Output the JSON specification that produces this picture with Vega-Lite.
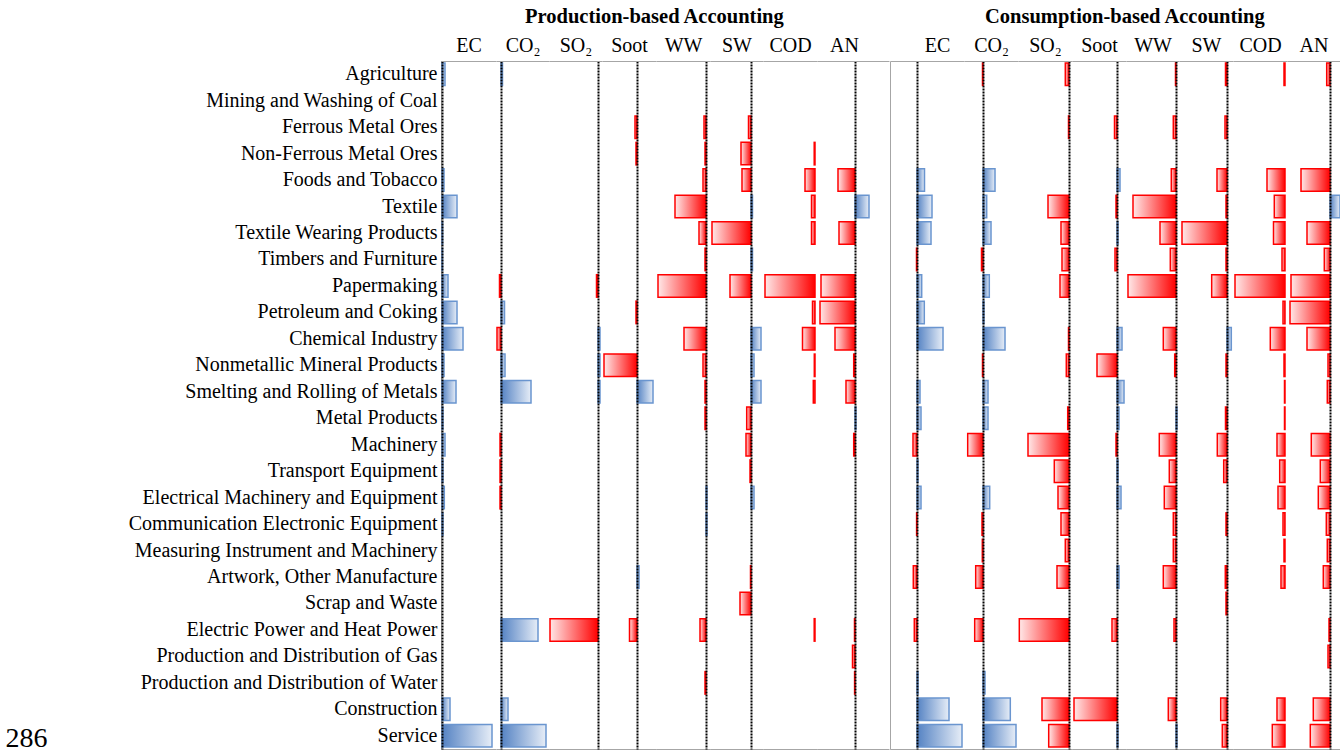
{
"$schema": "https://vega.github.io/schema/vega-lite/v6.json",
"background": "white",
"padding": {"left": 5, "top": 6, "right": 0, "bottom": 0},
"config": {"view": {"stroke": null}, "font": "Liberation Serif"},
"datasets": {
"prod": [
{"sector":"Agriculture","ind":"EC","value":3},{"sector":"Agriculture","ind":"CO2","value":1.5},
{"sector":"Ferrous Metal Ores","ind":"Soot","value":-2},{"sector":"Ferrous Metal Ores","ind":"WW","value":-2},{"sector":"Ferrous Metal Ores","ind":"SW","value":-2.5},
{"sector":"Non-Ferrous Metal Ores","ind":"Soot","value":-1},{"sector":"Non-Ferrous Metal Ores","ind":"WW","value":-1},{"sector":"Non-Ferrous Metal Ores","ind":"SW","value":-10},{"sector":"Non-Ferrous Metal Ores","ind":"COD","value":-0.8},
{"sector":"Foods and Tobacco","ind":"EC","value":2},{"sector":"Foods and Tobacco","ind":"WW","value":-3},{"sector":"Foods and Tobacco","ind":"SW","value":-9},{"sector":"Foods and Tobacco","ind":"COD","value":-10},{"sector":"Foods and Tobacco","ind":"AN","value":-17},
{"sector":"Textile","ind":"EC","value":15},{"sector":"Textile","ind":"WW","value":-31},{"sector":"Textile","ind":"SW","value":1.5},{"sector":"Textile","ind":"COD","value":-3.5},{"sector":"Textile","ind":"AN","value":14},
{"sector":"Textile Wearing Products","ind":"EC","value":0.6},{"sector":"Textile Wearing Products","ind":"WW","value":-7},{"sector":"Textile Wearing Products","ind":"SW","value":-39},{"sector":"Textile Wearing Products","ind":"COD","value":-3.5},{"sector":"Textile Wearing Products","ind":"AN","value":-16},
{"sector":"Timbers and Furniture","ind":"EC","value":0.5},{"sector":"Timbers and Furniture","ind":"WW","value":-1},{"sector":"Timbers and Furniture","ind":"SW","value":1.5},
{"sector":"Papermaking","ind":"EC","value":6},{"sector":"Papermaking","ind":"CO2","value":-1.5},{"sector":"Papermaking","ind":"SO2","value":-1.5},{"sector":"Papermaking","ind":"WW","value":-48},{"sector":"Papermaking","ind":"SW","value":-21},{"sector":"Papermaking","ind":"COD","value":-50},{"sector":"Papermaking","ind":"AN","value":-34},
{"sector":"Petroleum and Coking","ind":"EC","value":15},{"sector":"Petroleum and Coking","ind":"CO2","value":3.5},{"sector":"Petroleum and Coking","ind":"Soot","value":-1},{"sector":"Petroleum and Coking","ind":"COD","value":-2.5},{"sector":"Petroleum and Coking","ind":"AN","value":-35},
{"sector":"Chemical Industry","ind":"EC","value":21},{"sector":"Chemical Industry","ind":"CO2","value":-4},{"sector":"Chemical Industry","ind":"SO2","value":2},{"sector":"Chemical Industry","ind":"WW","value":-22},{"sector":"Chemical Industry","ind":"SW","value":10},{"sector":"Chemical Industry","ind":"COD","value":-12.5},{"sector":"Chemical Industry","ind":"AN","value":-20},
{"sector":"Nonmetallic Mineral Products","ind":"EC","value":2},{"sector":"Nonmetallic Mineral Products","ind":"CO2","value":4},{"sector":"Nonmetallic Mineral Products","ind":"SO2","value":2},{"sector":"Nonmetallic Mineral Products","ind":"Soot","value":-33},{"sector":"Nonmetallic Mineral Products","ind":"WW","value":-3},{"sector":"Nonmetallic Mineral Products","ind":"SW","value":3},{"sector":"Nonmetallic Mineral Products","ind":"COD","value":-0.7},{"sector":"Nonmetallic Mineral Products","ind":"AN","value":-1.3},
{"sector":"Smelting and Rolling of Metals","ind":"EC","value":14},{"sector":"Smelting and Rolling of Metals","ind":"CO2","value":30},{"sector":"Smelting and Rolling of Metals","ind":"SO2","value":2},{"sector":"Smelting and Rolling of Metals","ind":"Soot","value":16},{"sector":"Smelting and Rolling of Metals","ind":"WW","value":-1},{"sector":"Smelting and Rolling of Metals","ind":"SW","value":10},{"sector":"Smelting and Rolling of Metals","ind":"COD","value":-1.7},{"sector":"Smelting and Rolling of Metals","ind":"AN","value":-9},
{"sector":"Metal Products","ind":"EC","value":1},{"sector":"Metal Products","ind":"WW","value":-1},{"sector":"Metal Products","ind":"SW","value":-4.3},{"sector":"Metal Products","ind":"AN","value":1},
{"sector":"Machinery","ind":"EC","value":3},{"sector":"Machinery","ind":"CO2","value":-1},{"sector":"Machinery","ind":"SW","value":-5},{"sector":"Machinery","ind":"AN","value":-1.3},
{"sector":"Transport Equipment","ind":"EC","value":1},{"sector":"Transport Equipment","ind":"CO2","value":-1},{"sector":"Transport Equipment","ind":"SW","value":-1},
{"sector":"Electrical Machinery and Equipment","ind":"EC","value":2.3},{"sector":"Electrical Machinery and Equipment","ind":"CO2","value":-1},{"sector":"Electrical Machinery and Equipment","ind":"WW","value":1},{"sector":"Electrical Machinery and Equipment","ind":"SW","value":3},
{"sector":"Communication Electronic Equipment","ind":"EC","value":1},{"sector":"Communication Electronic Equipment","ind":"WW","value":1},
{"sector":"Artwork, Other Manufacture","ind":"Soot","value":2},{"sector":"Artwork, Other Manufacture","ind":"SW","value":-0.5},
{"sector":"Scrap and Waste","ind":"SW","value":-11},
{"sector":"Electric Power and Heat Power","ind":"CO2","value":37},{"sector":"Electric Power and Heat Power","ind":"SO2","value":-48},{"sector":"Electric Power and Heat Power","ind":"Soot","value":-7.5},{"sector":"Electric Power and Heat Power","ind":"WW","value":-6},{"sector":"Electric Power and Heat Power","ind":"COD","value":-0.8},{"sector":"Electric Power and Heat Power","ind":"AN","value":-0.5},
{"sector":"Production and Distribution of Gas","ind":"AN","value":-2.5},
{"sector":"Production and Distribution of Water","ind":"WW","value":-1},{"sector":"Production and Distribution of Water","ind":"AN","value":-0.4},
{"sector":"Construction","ind":"EC","value":8},{"sector":"Construction","ind":"CO2","value":7},
{"sector":"Service","ind":"EC","value":50},{"sector":"Service","ind":"CO2","value":45}
],
"cons": [
{"sector":"Agriculture","ind":"CO2","value":-0.5},{"sector":"Agriculture","ind":"SO2","value":-3.7},{"sector":"Agriculture","ind":"WW","value":-0.5},{"sector":"Agriculture","ind":"SW","value":-1.5},{"sector":"Agriculture","ind":"COD","value":-1},{"sector":"Agriculture","ind":"AN","value":-3.3},
{"sector":"Ferrous Metal Ores","ind":"SO2","value":-0.5},{"sector":"Ferrous Metal Ores","ind":"Soot","value":-2.5},{"sector":"Ferrous Metal Ores","ind":"WW","value":-2.7},{"sector":"Ferrous Metal Ores","ind":"SW","value":-2},
{"sector":"Foods and Tobacco","ind":"EC","value":7.5},{"sector":"Foods and Tobacco","ind":"CO2","value":12},{"sector":"Foods and Tobacco","ind":"Soot","value":3},{"sector":"Foods and Tobacco","ind":"WW","value":-4.7},{"sector":"Foods and Tobacco","ind":"SW","value":-10},{"sector":"Foods and Tobacco","ind":"COD","value":-18},{"sector":"Foods and Tobacco","ind":"AN","value":-29},
{"sector":"Textile","ind":"EC","value":15},{"sector":"Textile","ind":"CO2","value":3.7},{"sector":"Textile","ind":"SO2","value":-21},{"sector":"Textile","ind":"Soot","value":-1},{"sector":"Textile","ind":"WW","value":-43},{"sector":"Textile","ind":"SW","value":-1},{"sector":"Textile","ind":"COD","value":-10.7},{"sector":"Textile","ind":"AN","value":10},
{"sector":"Textile Wearing Products","ind":"EC","value":14},{"sector":"Textile Wearing Products","ind":"CO2","value":8},{"sector":"Textile Wearing Products","ind":"SO2","value":-8},{"sector":"Textile Wearing Products","ind":"Soot","value":1},{"sector":"Textile Wearing Products","ind":"WW","value":-16},{"sector":"Textile Wearing Products","ind":"SW","value":-45},{"sector":"Textile Wearing Products","ind":"COD","value":-11.5},{"sector":"Textile Wearing Products","ind":"AN","value":-23},
{"sector":"Timbers and Furniture","ind":"EC","value":-0.5},{"sector":"Timbers and Furniture","ind":"CO2","value":-1.5},{"sector":"Timbers and Furniture","ind":"SO2","value":-7},{"sector":"Timbers and Furniture","ind":"Soot","value":-2},{"sector":"Timbers and Furniture","ind":"WW","value":-5.7},{"sector":"Timbers and Furniture","ind":"SW","value":-1},{"sector":"Timbers and Furniture","ind":"COD","value":-3},{"sector":"Timbers and Furniture","ind":"AN","value":-5.7},
{"sector":"Papermaking","ind":"EC","value":4.7},{"sector":"Papermaking","ind":"CO2","value":6.3},{"sector":"Papermaking","ind":"SO2","value":-9},{"sector":"Papermaking","ind":"WW","value":-48},{"sector":"Papermaking","ind":"SW","value":-15.3},{"sector":"Papermaking","ind":"COD","value":-50},{"sector":"Papermaking","ind":"AN","value":-39},
{"sector":"Petroleum and Coking","ind":"EC","value":7.3},{"sector":"Petroleum and Coking","ind":"CO2","value":1},{"sector":"Petroleum and Coking","ind":"COD","value":-2},{"sector":"Petroleum and Coking","ind":"AN","value":-40},
{"sector":"Chemical Industry","ind":"EC","value":26},{"sector":"Chemical Industry","ind":"CO2","value":22},{"sector":"Chemical Industry","ind":"SO2","value":-0.5},{"sector":"Chemical Industry","ind":"Soot","value":5},{"sector":"Chemical Industry","ind":"WW","value":-12.7},{"sector":"Chemical Industry","ind":"SW","value":4.3},{"sector":"Chemical Industry","ind":"COD","value":-14.7},{"sector":"Chemical Industry","ind":"AN","value":-23},
{"sector":"Nonmetallic Mineral Products","ind":"CO2","value":-0.5},{"sector":"Nonmetallic Mineral Products","ind":"SO2","value":-2.7},{"sector":"Nonmetallic Mineral Products","ind":"Soot","value":-20},{"sector":"Nonmetallic Mineral Products","ind":"WW","value":-1.3},{"sector":"Nonmetallic Mineral Products","ind":"SW","value":-1},{"sector":"Nonmetallic Mineral Products","ind":"COD","value":-1},{"sector":"Nonmetallic Mineral Products","ind":"AN","value":-2},
{"sector":"Smelting and Rolling of Metals","ind":"EC","value":3},{"sector":"Smelting and Rolling of Metals","ind":"CO2","value":5},{"sector":"Smelting and Rolling of Metals","ind":"Soot","value":7},{"sector":"Smelting and Rolling of Metals","ind":"COD","value":-0.5},{"sector":"Smelting and Rolling of Metals","ind":"AN","value":-2.7},
{"sector":"Metal Products","ind":"EC","value":4},{"sector":"Metal Products","ind":"CO2","value":5},{"sector":"Metal Products","ind":"SO2","value":-1.3},{"sector":"Metal Products","ind":"Soot","value":2},{"sector":"Metal Products","ind":"WW","value":1},{"sector":"Metal Products","ind":"SW","value":-1.5},{"sector":"Metal Products","ind":"COD","value":-0.5},
{"sector":"Machinery","ind":"EC","value":-4},{"sector":"Machinery","ind":"CO2","value":-15.3},{"sector":"Machinery","ind":"SO2","value":-41},{"sector":"Machinery","ind":"Soot","value":-1},{"sector":"Machinery","ind":"WW","value":-16.7},{"sector":"Machinery","ind":"SW","value":-9.7},{"sector":"Machinery","ind":"COD","value":-8},{"sector":"Machinery","ind":"AN","value":-18.7},
{"sector":"Transport Equipment","ind":"EC","value":1},{"sector":"Transport Equipment","ind":"SO2","value":-14.7},{"sector":"Transport Equipment","ind":"Soot","value":1},{"sector":"Transport Equipment","ind":"WW","value":-6.7},{"sector":"Transport Equipment","ind":"SW","value":-3.3},{"sector":"Transport Equipment","ind":"COD","value":-5.3},{"sector":"Transport Equipment","ind":"AN","value":-9.7},
{"sector":"Electrical Machinery and Equipment","ind":"EC","value":4},{"sector":"Electrical Machinery and Equipment","ind":"CO2","value":6.7},{"sector":"Electrical Machinery and Equipment","ind":"SO2","value":-11},{"sector":"Electrical Machinery and Equipment","ind":"Soot","value":4},{"sector":"Electrical Machinery and Equipment","ind":"WW","value":-11.7},{"sector":"Electrical Machinery and Equipment","ind":"COD","value":-7},{"sector":"Electrical Machinery and Equipment","ind":"AN","value":-11.7},
{"sector":"Communication Electronic Equipment","ind":"EC","value":-0.4},{"sector":"Communication Electronic Equipment","ind":"CO2","value":-1},{"sector":"Communication Electronic Equipment","ind":"SO2","value":-8},{"sector":"Communication Electronic Equipment","ind":"WW","value":-2.7},{"sector":"Communication Electronic Equipment","ind":"SW","value":-1},{"sector":"Communication Electronic Equipment","ind":"COD","value":-2},{"sector":"Communication Electronic Equipment","ind":"AN","value":-3.7},
{"sector":"Measuring Instrument and Machinery","ind":"CO2","value":-0.7},{"sector":"Measuring Instrument and Machinery","ind":"SO2","value":-3.7},{"sector":"Measuring Instrument and Machinery","ind":"WW","value":-2.7},{"sector":"Measuring Instrument and Machinery","ind":"COD","value":-1},{"sector":"Measuring Instrument and Machinery","ind":"AN","value":-2.7},
{"sector":"Artwork, Other Manufacture","ind":"EC","value":-3.7},{"sector":"Artwork, Other Manufacture","ind":"CO2","value":-7.3},{"sector":"Artwork, Other Manufacture","ind":"SO2","value":-12},{"sector":"Artwork, Other Manufacture","ind":"Soot","value":2},{"sector":"Artwork, Other Manufacture","ind":"WW","value":-12.7},{"sector":"Artwork, Other Manufacture","ind":"SW","value":-1.7},{"sector":"Artwork, Other Manufacture","ind":"COD","value":-4},{"sector":"Artwork, Other Manufacture","ind":"AN","value":-6.7},
{"sector":"Scrap and Waste","ind":"SW","value":-1},
{"sector":"Electric Power and Heat Power","ind":"EC","value":-2.7},{"sector":"Electric Power and Heat Power","ind":"CO2","value":-8.3},{"sector":"Electric Power and Heat Power","ind":"SO2","value":-49.7},{"sector":"Electric Power and Heat Power","ind":"Soot","value":-5},{"sector":"Electric Power and Heat Power","ind":"WW","value":-2},{"sector":"Electric Power and Heat Power","ind":"AN","value":-1},
{"sector":"Production and Distribution of Gas","ind":"AN","value":-2},
{"sector":"Production and Distribution of Water","ind":"EC","value":1},{"sector":"Production and Distribution of Water","ind":"CO2","value":2},
{"sector":"Construction","ind":"EC","value":32},{"sector":"Construction","ind":"CO2","value":27.3},{"sector":"Construction","ind":"SO2","value":-27},{"sector":"Construction","ind":"Soot","value":-43},{"sector":"Construction","ind":"WW","value":-7.7},{"sector":"Construction","ind":"SW","value":-6.3},{"sector":"Construction","ind":"COD","value":-8},{"sector":"Construction","ind":"AN","value":-16.7},
{"sector":"Service","ind":"EC","value":45},{"sector":"Service","ind":"CO2","value":33},{"sector":"Service","ind":"SO2","value":-20.3},{"sector":"Service","ind":"Soot","value":1},{"sector":"Service","ind":"WW","value":1},{"sector":"Service","ind":"SW","value":-4.7},{"sector":"Service","ind":"COD","value":-12.7},{"sector":"Service","ind":"AN","value":-19.7}
]
},
"spacing": 0,
"hconcat": [
{
"data": {"name": "prod"},
"title": {"text": "Production-based Accounting", "font": "Liberation Serif", "fontSize": 20.5, "fontWeight": "bold", "color": "#000", "anchor": "start", "frame": "group", "dx": 84, "offset": 8},
"spacing": 0,
"bounds": "flush",
"hconcat": [
{"width": 55, "height": 688, "transform": [{"filter": "datum.ind === 'EC'"}],
 "encoding": {"y": {"field": "sector", "type": "nominal", "scale": {"domain": ["Agriculture","Mining and Washing of Coal","Ferrous Metal Ores","Non-Ferrous Metal Ores","Foods and Tobacco","Textile","Textile Wearing Products","Timbers and Furniture","Papermaking","Petroleum and Coking","Chemical Industry","Nonmetallic Mineral Products","Smelting and Rolling of Metals","Metal Products","Machinery","Transport Equipment","Electrical Machinery and Equipment","Communication Electronic Equipment","Measuring Instrument and Machinery","Artwork, Other Manufacture","Scrap and Waste","Electric Power and Heat Power","Production and Distribution of Gas","Production and Distribution of Water","Construction","Service"], "paddingInner": 0.15, "paddingOuter": 0.075},
   "axis": {"labelFont": "Liberation Serif", "labelFontSize": 20, "labelColor": "#000", "labelPadding": 4, "labelLimit": 500, "ticks": false, "domainColor": "#a6a6a6", "domainWidth": 1, "title": "286", "titleAngle": 0, "titleFont": "Liberation Serif", "titleFontSize": 28, "titleFontWeight": "normal", "titleColor": "#000", "titleAlign": "left", "titleBaseline": "alphabetic", "titleX": -436, "titleY": 685}},
  "x2": {"datum": 0}},
 "layer": [
  {"transform": [{"filter": "datum.value > 0"}], "mark": {"type": "bar", "fill": {"x1": 0, "y1": 0, "x2": 1, "y2": 0, "gradient": "linear", "stops": [{"offset": 0, "color": "#5482c3"}, {"offset": 1, "color": "#e6edf7"}]}, "stroke": "#6a95cf", "strokeWidth": 1.5},
   "encoding": {"x": {"field": "value", "type": "quantitative", "scale": {"domain": [-1, 54], "nice": false, "zero": false}, "axis": {"orient": "bottom", "values": [-1], "labels": false, "title": null, "grid": false, "domainColor": "#a6a6a6", "domainWidth": 1, "tickColor": "#a6a6a6", "tickSize": 4}}}},
  {"transform": [{"filter": "datum.value < 0"}], "mark": {"type": "bar", "fill": {"x1": 0, "y1": 0, "x2": 1, "y2": 0, "gradient": "linear", "stops": [{"offset": 0, "color": "#ffe8e8"}, {"offset": 1, "color": "#ff0000"}]}, "stroke": "#ff0000", "strokeWidth": 1.5},
   "encoding": {"x": {"field": "value", "type": "quantitative", "scale": {"domain": [-1, 54], "nice": false, "zero": false}, "axis": {"orient": "top", "values": [0], "labels": false, "ticks": false, "grid": true, "gridColor": "#000", "gridWidth": 2, "gridDash": [2, 1], "zindex": 1, "domainColor": "#a6a6a6", "domainWidth": 1, "title": "EC", "titleFont": "Liberation Serif", "titleFontSize": 20, "titleFontWeight": "normal", "titleColor": "#000", "titlePadding": 6}}}}
 ],
 "resolve": {"axis": {"x": "independent"}}},
{"width": 53, "height": 688, "transform": [{"filter": "datum.ind === 'CO2'"}],
 "encoding": {"y": {"field": "sector", "type": "nominal", "scale": {"domain": ["Agriculture","Mining and Washing of Coal","Ferrous Metal Ores","Non-Ferrous Metal Ores","Foods and Tobacco","Textile","Textile Wearing Products","Timbers and Furniture","Papermaking","Petroleum and Coking","Chemical Industry","Nonmetallic Mineral Products","Smelting and Rolling of Metals","Metal Products","Machinery","Transport Equipment","Electrical Machinery and Equipment","Communication Electronic Equipment","Measuring Instrument and Machinery","Artwork, Other Manufacture","Scrap and Waste","Electric Power and Heat Power","Production and Distribution of Gas","Production and Distribution of Water","Construction","Service"], "paddingInner": 0.15, "paddingOuter": 0.075}, "axis": null},
  "x2": {"datum": 0}},
 "layer": [
  {"transform": [{"filter": "datum.value > 0"}], "mark": {"type": "bar", "fill": {"x1": 0, "y1": 0, "x2": 1, "y2": 0, "gradient": "linear", "stops": [{"offset": 0, "color": "#5482c3"}, {"offset": 1, "color": "#e6edf7"}]}, "stroke": "#6a95cf", "strokeWidth": 1.5},
   "encoding": {"x": {"field": "value", "type": "quantitative", "scale": {"domain": [-5, 48], "nice": false, "zero": false}, "axis": {"orient": "bottom", "values": [-5], "labels": false, "ticks": false, "title": null, "grid": false, "domainColor": "#a6a6a6", "domainWidth": 1}}}},
  {"transform": [{"filter": "datum.value < 0"}], "mark": {"type": "bar", "fill": {"x1": 0, "y1": 0, "x2": 1, "y2": 0, "gradient": "linear", "stops": [{"offset": 0, "color": "#ffe8e8"}, {"offset": 1, "color": "#ff0000"}]}, "stroke": "#ff0000", "strokeWidth": 1.5},
   "encoding": {"x": {"field": "value", "type": "quantitative", "scale": {"domain": [-5, 48], "nice": false, "zero": false}, "axis": {"orient": "top", "values": [0], "labels": false, "ticks": false, "grid": true, "gridColor": "#000", "gridWidth": 2, "gridDash": [2, 1], "zindex": 1, "domainColor": "#a6a6a6", "domainWidth": 1, "title": "CO₂", "titleFont": "Liberation Serif", "titleFontSize": 20, "titleFontWeight": "normal", "titleColor": "#000", "titlePadding": 6}}}}
 ],
 "resolve": {"axis": {"x": "independent"}}},
{"width": 53, "height": 688, "transform": [{"filter": "datum.ind === 'SO2'"}],
 "encoding": {"y": {"field": "sector", "type": "nominal", "scale": {"domain": ["Agriculture","Mining and Washing of Coal","Ferrous Metal Ores","Non-Ferrous Metal Ores","Foods and Tobacco","Textile","Textile Wearing Products","Timbers and Furniture","Papermaking","Petroleum and Coking","Chemical Industry","Nonmetallic Mineral Products","Smelting and Rolling of Metals","Metal Products","Machinery","Transport Equipment","Electrical Machinery and Equipment","Communication Electronic Equipment","Measuring Instrument and Machinery","Artwork, Other Manufacture","Scrap and Waste","Electric Power and Heat Power","Production and Distribution of Gas","Production and Distribution of Water","Construction","Service"], "paddingInner": 0.15, "paddingOuter": 0.075}, "axis": null},
  "x2": {"datum": 0}},
 "layer": [
  {"transform": [{"filter": "datum.value > 0"}], "mark": {"type": "bar", "fill": {"x1": 0, "y1": 0, "x2": 1, "y2": 0, "gradient": "linear", "stops": [{"offset": 0, "color": "#5482c3"}, {"offset": 1, "color": "#e6edf7"}]}, "stroke": "#6a95cf", "strokeWidth": 1.5},
   "encoding": {"x": {"field": "value", "type": "quantitative", "scale": {"domain": [-49, 4], "nice": false, "zero": false}, "axis": {"orient": "bottom", "values": [-49], "labels": false, "title": null, "grid": false, "domainColor": "#a6a6a6", "domainWidth": 1, "tickColor": "#a6a6a6", "tickSize": 4}}}},
  {"transform": [{"filter": "datum.value < 0"}], "mark": {"type": "bar", "fill": {"x1": 0, "y1": 0, "x2": 1, "y2": 0, "gradient": "linear", "stops": [{"offset": 0, "color": "#ffe8e8"}, {"offset": 1, "color": "#ff0000"}]}, "stroke": "#ff0000", "strokeWidth": 1.5},
   "encoding": {"x": {"field": "value", "type": "quantitative", "scale": {"domain": [-49, 4], "nice": false, "zero": false}, "axis": {"orient": "top", "values": [0], "labels": false, "ticks": false, "grid": true, "gridColor": "#000", "gridWidth": 2, "gridDash": [2, 1], "zindex": 1, "domainColor": "#a6a6a6", "domainWidth": 1, "title": "SO₂", "titleFont": "Liberation Serif", "titleFontSize": 20, "titleFontWeight": "normal", "titleColor": "#000", "titlePadding": 6}}}}
 ],
 "resolve": {"axis": {"x": "independent"}}},
{"width": 54, "height": 688, "transform": [{"filter": "datum.ind === 'Soot'"}],
 "encoding": {"y": {"field": "sector", "type": "nominal", "scale": {"domain": ["Agriculture","Mining and Washing of Coal","Ferrous Metal Ores","Non-Ferrous Metal Ores","Foods and Tobacco","Textile","Textile Wearing Products","Timbers and Furniture","Papermaking","Petroleum and Coking","Chemical Industry","Nonmetallic Mineral Products","Smelting and Rolling of Metals","Metal Products","Machinery","Transport Equipment","Electrical Machinery and Equipment","Communication Electronic Equipment","Measuring Instrument and Machinery","Artwork, Other Manufacture","Scrap and Waste","Electric Power and Heat Power","Production and Distribution of Gas","Production and Distribution of Water","Construction","Service"], "paddingInner": 0.15, "paddingOuter": 0.075}, "axis": null},
  "x2": {"datum": 0}},
 "layer": [
  {"transform": [{"filter": "datum.value > 0"}], "mark": {"type": "bar", "fill": {"x1": 0, "y1": 0, "x2": 1, "y2": 0, "gradient": "linear", "stops": [{"offset": 0, "color": "#5482c3"}, {"offset": 1, "color": "#e6edf7"}]}, "stroke": "#6a95cf", "strokeWidth": 1.5},
   "encoding": {"x": {"field": "value", "type": "quantitative", "scale": {"domain": [-35, 19], "nice": false, "zero": false}, "axis": {"orient": "bottom", "values": [-35], "labels": false, "title": null, "grid": false, "domainColor": "#a6a6a6", "domainWidth": 1, "tickColor": "#a6a6a6", "tickSize": 4}}}},
  {"transform": [{"filter": "datum.value < 0"}], "mark": {"type": "bar", "fill": {"x1": 0, "y1": 0, "x2": 1, "y2": 0, "gradient": "linear", "stops": [{"offset": 0, "color": "#ffe8e8"}, {"offset": 1, "color": "#ff0000"}]}, "stroke": "#ff0000", "strokeWidth": 1.5},
   "encoding": {"x": {"field": "value", "type": "quantitative", "scale": {"domain": [-35, 19], "nice": false, "zero": false}, "axis": {"orient": "top", "values": [0], "labels": false, "ticks": false, "grid": true, "gridColor": "#000", "gridWidth": 2, "gridDash": [2, 1], "zindex": 1, "domainColor": "#a6a6a6", "domainWidth": 1, "title": "Soot", "titleFont": "Liberation Serif", "titleFontSize": 20, "titleFontWeight": "normal", "titleColor": "#000", "titlePadding": 6}}}}
 ],
 "resolve": {"axis": {"x": "independent"}}},
{"width": 54, "height": 688, "transform": [{"filter": "datum.ind === 'WW'"}],
 "encoding": {"y": {"field": "sector", "type": "nominal", "scale": {"domain": ["Agriculture","Mining and Washing of Coal","Ferrous Metal Ores","Non-Ferrous Metal Ores","Foods and Tobacco","Textile","Textile Wearing Products","Timbers and Furniture","Papermaking","Petroleum and Coking","Chemical Industry","Nonmetallic Mineral Products","Smelting and Rolling of Metals","Metal Products","Machinery","Transport Equipment","Electrical Machinery and Equipment","Communication Electronic Equipment","Measuring Instrument and Machinery","Artwork, Other Manufacture","Scrap and Waste","Electric Power and Heat Power","Production and Distribution of Gas","Production and Distribution of Water","Construction","Service"], "paddingInner": 0.15, "paddingOuter": 0.075}, "axis": null},
  "x2": {"datum": 0}},
 "layer": [
  {"transform": [{"filter": "datum.value > 0"}], "mark": {"type": "bar", "fill": {"x1": 0, "y1": 0, "x2": 1, "y2": 0, "gradient": "linear", "stops": [{"offset": 0, "color": "#5482c3"}, {"offset": 1, "color": "#e6edf7"}]}, "stroke": "#6a95cf", "strokeWidth": 1.5},
   "encoding": {"x": {"field": "value", "type": "quantitative", "scale": {"domain": [-50, 4], "nice": false, "zero": false}, "axis": {"orient": "bottom", "values": [-50], "labels": false, "title": null, "grid": false, "domainColor": "#a6a6a6", "domainWidth": 1, "tickColor": "#a6a6a6", "tickSize": 4}}}},
  {"transform": [{"filter": "datum.value < 0"}], "mark": {"type": "bar", "fill": {"x1": 0, "y1": 0, "x2": 1, "y2": 0, "gradient": "linear", "stops": [{"offset": 0, "color": "#ffe8e8"}, {"offset": 1, "color": "#ff0000"}]}, "stroke": "#ff0000", "strokeWidth": 1.5},
   "encoding": {"x": {"field": "value", "type": "quantitative", "scale": {"domain": [-50, 4], "nice": false, "zero": false}, "axis": {"orient": "top", "values": [0], "labels": false, "ticks": false, "grid": true, "gridColor": "#000", "gridWidth": 2, "gridDash": [2, 1], "zindex": 1, "domainColor": "#a6a6a6", "domainWidth": 1, "title": "WW", "titleFont": "Liberation Serif", "titleFontSize": 20, "titleFontWeight": "normal", "titleColor": "#000", "titlePadding": 6}}}}
 ],
 "resolve": {"axis": {"x": "independent"}}},
{"width": 53, "height": 688, "transform": [{"filter": "datum.ind === 'SW'"}],
 "encoding": {"y": {"field": "sector", "type": "nominal", "scale": {"domain": ["Agriculture","Mining and Washing of Coal","Ferrous Metal Ores","Non-Ferrous Metal Ores","Foods and Tobacco","Textile","Textile Wearing Products","Timbers and Furniture","Papermaking","Petroleum and Coking","Chemical Industry","Nonmetallic Mineral Products","Smelting and Rolling of Metals","Metal Products","Machinery","Transport Equipment","Electrical Machinery and Equipment","Communication Electronic Equipment","Measuring Instrument and Machinery","Artwork, Other Manufacture","Scrap and Waste","Electric Power and Heat Power","Production and Distribution of Gas","Production and Distribution of Water","Construction","Service"], "paddingInner": 0.15, "paddingOuter": 0.075}, "axis": null},
  "x2": {"datum": 0}},
 "layer": [
  {"transform": [{"filter": "datum.value > 0"}], "mark": {"type": "bar", "fill": {"x1": 0, "y1": 0, "x2": 1, "y2": 0, "gradient": "linear", "stops": [{"offset": 0, "color": "#5482c3"}, {"offset": 1, "color": "#e6edf7"}]}, "stroke": "#6a95cf", "strokeWidth": 1.5},
   "encoding": {"x": {"field": "value", "type": "quantitative", "scale": {"domain": [-41, 12], "nice": false, "zero": false}, "axis": {"orient": "bottom", "values": [-41], "labels": false, "title": null, "grid": false, "domainColor": "#a6a6a6", "domainWidth": 1, "tickColor": "#a6a6a6", "tickSize": 4}}}},
  {"transform": [{"filter": "datum.value < 0"}], "mark": {"type": "bar", "fill": {"x1": 0, "y1": 0, "x2": 1, "y2": 0, "gradient": "linear", "stops": [{"offset": 0, "color": "#ffe8e8"}, {"offset": 1, "color": "#ff0000"}]}, "stroke": "#ff0000", "strokeWidth": 1.5},
   "encoding": {"x": {"field": "value", "type": "quantitative", "scale": {"domain": [-41, 12], "nice": false, "zero": false}, "axis": {"orient": "top", "values": [0], "labels": false, "ticks": false, "grid": true, "gridColor": "#000", "gridWidth": 2, "gridDash": [2, 1], "zindex": 1, "domainColor": "#a6a6a6", "domainWidth": 1, "title": "SW", "titleFont": "Liberation Serif", "titleFontSize": 20, "titleFontWeight": "normal", "titleColor": "#000", "titlePadding": 6}}}}
 ],
 "resolve": {"axis": {"x": "independent"}}},
{"width": 54, "height": 688, "transform": [{"filter": "datum.ind === 'COD'"}],
 "encoding": {"y": {"field": "sector", "type": "nominal", "scale": {"domain": ["Agriculture","Mining and Washing of Coal","Ferrous Metal Ores","Non-Ferrous Metal Ores","Foods and Tobacco","Textile","Textile Wearing Products","Timbers and Furniture","Papermaking","Petroleum and Coking","Chemical Industry","Nonmetallic Mineral Products","Smelting and Rolling of Metals","Metal Products","Machinery","Transport Equipment","Electrical Machinery and Equipment","Communication Electronic Equipment","Measuring Instrument and Machinery","Artwork, Other Manufacture","Scrap and Waste","Electric Power and Heat Power","Production and Distribution of Gas","Production and Distribution of Water","Construction","Service"], "paddingInner": 0.15, "paddingOuter": 0.075}, "axis": null},
  "x2": {"datum": 0}},
 "layer": [
  {"transform": [{"filter": "datum.value > 0"}], "mark": {"type": "bar", "fill": {"x1": 0, "y1": 0, "x2": 1, "y2": 0, "gradient": "linear", "stops": [{"offset": 0, "color": "#5482c3"}, {"offset": 1, "color": "#e6edf7"}]}, "stroke": "#6a95cf", "strokeWidth": 1.5},
   "encoding": {"x": {"field": "value", "type": "quantitative", "scale": {"domain": [-52, 2], "nice": false, "zero": false}, "axis": {"orient": "bottom", "values": [-52], "labels": false, "title": null, "grid": false, "domainColor": "#a6a6a6", "domainWidth": 1, "tickColor": "#a6a6a6", "tickSize": 4}}}},
  {"transform": [{"filter": "datum.value < 0"}], "mark": {"type": "bar", "fill": {"x1": 0, "y1": 0, "x2": 1, "y2": 0, "gradient": "linear", "stops": [{"offset": 0, "color": "#ffe8e8"}, {"offset": 1, "color": "#ff0000"}]}, "stroke": "#ff0000", "strokeWidth": 1.5},
   "encoding": {"x": {"field": "value", "type": "quantitative", "scale": {"domain": [-52, 2], "nice": false, "zero": false}, "axis": {"orient": "top", "values": [0], "labels": false, "ticks": false, "grid": false, "domainColor": "#a6a6a6", "domainWidth": 1, "title": "COD", "titleFont": "Liberation Serif", "titleFontSize": 20, "titleFontWeight": "normal", "titleColor": "#000", "titlePadding": 6}}}}
 ],
 "resolve": {"axis": {"x": "independent"}}},
{"width": 72, "height": 688, "transform": [{"filter": "datum.ind === 'AN'"}],
 "encoding": {"y": {"field": "sector", "type": "nominal", "scale": {"domain": ["Agriculture","Mining and Washing of Coal","Ferrous Metal Ores","Non-Ferrous Metal Ores","Foods and Tobacco","Textile","Textile Wearing Products","Timbers and Furniture","Papermaking","Petroleum and Coking","Chemical Industry","Nonmetallic Mineral Products","Smelting and Rolling of Metals","Metal Products","Machinery","Transport Equipment","Electrical Machinery and Equipment","Communication Electronic Equipment","Measuring Instrument and Machinery","Artwork, Other Manufacture","Scrap and Waste","Electric Power and Heat Power","Production and Distribution of Gas","Production and Distribution of Water","Construction","Service"], "paddingInner": 0.15, "paddingOuter": 0.075}, "axis": null},
  "x2": {"datum": 0}},
 "layer": [
  {"transform": [{"filter": "datum.value > 0"}], "mark": {"type": "bar", "fill": {"x1": 0, "y1": 0, "x2": 1, "y2": 0, "gradient": "linear", "stops": [{"offset": 0, "color": "#5482c3"}, {"offset": 1, "color": "#e6edf7"}]}, "stroke": "#6a95cf", "strokeWidth": 1.5},
   "encoding": {"x": {"field": "value", "type": "quantitative", "scale": {"domain": [-38, 34], "nice": false, "zero": false}, "axis": {"orient": "bottom", "values": [-38, 16], "labels": false, "title": null, "grid": false, "domainColor": "#a6a6a6", "domainWidth": 1, "tickColor": "#a6a6a6", "tickSize": 4}}}},
  {"transform": [{"filter": "datum.value < 0"}], "mark": {"type": "bar", "fill": {"x1": 0, "y1": 0, "x2": 1, "y2": 0, "gradient": "linear", "stops": [{"offset": 0, "color": "#ffe8e8"}, {"offset": 1, "color": "#ff0000"}]}, "stroke": "#ff0000", "strokeWidth": 1.5},
   "encoding": {"x": {"field": "value", "type": "quantitative", "scale": {"domain": [-38, 34], "nice": false, "zero": false}, "axis": {"orient": "top", "values": [0], "labels": false, "ticks": false, "grid": true, "gridColor": "#000", "gridWidth": 2, "gridDash": [2, 1], "zindex": 1, "domainColor": "#a6a6a6", "domainWidth": 1, "title": "AN", "titleX": 27, "titleFont": "Liberation Serif", "titleFontSize": 20, "titleFontWeight": "normal", "titleColor": "#000", "titlePadding": 6}}}}
 ],
 "resolve": {"axis": {"x": "independent"}}}
]
},
{
"data": {"name": "cons"},
"title": {"text": "Consumption-based Accounting", "font": "Liberation Serif", "fontSize": 20.5, "fontWeight": "bold", "color": "#000", "anchor": "start", "frame": "group", "dx": 95, "offset": 8},
"spacing": 0,
"bounds": "flush",
"hconcat": [
{"width": 74, "height": 688, "transform": [{"filter": "datum.ind === 'EC'"}],
 "encoding": {"y": {"field": "sector", "type": "nominal", "scale": {"domain": ["Agriculture","Mining and Washing of Coal","Ferrous Metal Ores","Non-Ferrous Metal Ores","Foods and Tobacco","Textile","Textile Wearing Products","Timbers and Furniture","Papermaking","Petroleum and Coking","Chemical Industry","Nonmetallic Mineral Products","Smelting and Rolling of Metals","Metal Products","Machinery","Transport Equipment","Electrical Machinery and Equipment","Communication Electronic Equipment","Measuring Instrument and Machinery","Artwork, Other Manufacture","Scrap and Waste","Electric Power and Heat Power","Production and Distribution of Gas","Production and Distribution of Water","Construction","Service"], "paddingInner": 0.15, "paddingOuter": 0.075},
   "axis": {"labels": false, "ticks": false, "title": null, "domainColor": "#a6a6a6", "domainWidth": 1}},
  "x2": {"datum": 0}},
 "layer": [
  {"transform": [{"filter": "datum.value > 0"}], "mark": {"type": "bar", "fill": {"x1": 0, "y1": 0, "x2": 1, "y2": 0, "gradient": "linear", "stops": [{"offset": 0, "color": "#5482c3"}, {"offset": 1, "color": "#e6edf7"}]}, "stroke": "#6a95cf", "strokeWidth": 1.5},
   "encoding": {"x": {"field": "value", "type": "quantitative", "scale": {"domain": [-27, 47], "nice": false, "zero": false}, "axis": {"orient": "bottom", "values": [-27, -6], "labels": false, "title": null, "grid": false, "domainColor": "#a6a6a6", "domainWidth": 1, "tickColor": "#a6a6a6", "tickSize": 4}}}},
  {"transform": [{"filter": "datum.value < 0"}], "mark": {"type": "bar", "fill": {"x1": 0, "y1": 0, "x2": 1, "y2": 0, "gradient": "linear", "stops": [{"offset": 0, "color": "#ffe8e8"}, {"offset": 1, "color": "#ff0000"}]}, "stroke": "#ff0000", "strokeWidth": 1.5},
   "encoding": {"x": {"field": "value", "type": "quantitative", "scale": {"domain": [-27, 47], "nice": false, "zero": false}, "axis": {"orient": "top", "values": [0], "labels": false, "ticks": false, "grid": true, "gridColor": "#000", "gridWidth": 2, "gridDash": [2, 1], "zindex": 1, "domainColor": "#a6a6a6", "domainWidth": 1, "title": "EC", "titleX": 47, "titleFont": "Liberation Serif", "titleFontSize": 20, "titleFontWeight": "normal", "titleColor": "#000", "titlePadding": 6}}}}
 ],
 "resolve": {"axis": {"x": "independent"}}},
{"width": 54, "height": 688, "transform": [{"filter": "datum.ind === 'CO2'"}],
 "encoding": {"y": {"field": "sector", "type": "nominal", "scale": {"domain": ["Agriculture","Mining and Washing of Coal","Ferrous Metal Ores","Non-Ferrous Metal Ores","Foods and Tobacco","Textile","Textile Wearing Products","Timbers and Furniture","Papermaking","Petroleum and Coking","Chemical Industry","Nonmetallic Mineral Products","Smelting and Rolling of Metals","Metal Products","Machinery","Transport Equipment","Electrical Machinery and Equipment","Communication Electronic Equipment","Measuring Instrument and Machinery","Artwork, Other Manufacture","Scrap and Waste","Electric Power and Heat Power","Production and Distribution of Gas","Production and Distribution of Water","Construction","Service"], "paddingInner": 0.15, "paddingOuter": 0.075}, "axis": null},
  "x2": {"datum": 0}},
 "layer": [
  {"transform": [{"filter": "datum.value > 0"}], "mark": {"type": "bar", "fill": {"x1": 0, "y1": 0, "x2": 1, "y2": 0, "gradient": "linear", "stops": [{"offset": 0, "color": "#5482c3"}, {"offset": 1, "color": "#e6edf7"}]}, "stroke": "#6a95cf", "strokeWidth": 1.5},
   "encoding": {"x": {"field": "value", "type": "quantitative", "scale": {"domain": [-19, 35], "nice": false, "zero": false}, "axis": {"orient": "bottom", "values": [-19], "labels": false, "title": null, "grid": false, "domainColor": "#a6a6a6", "domainWidth": 1, "tickColor": "#a6a6a6", "tickSize": 4}}}},
  {"transform": [{"filter": "datum.value < 0"}], "mark": {"type": "bar", "fill": {"x1": 0, "y1": 0, "x2": 1, "y2": 0, "gradient": "linear", "stops": [{"offset": 0, "color": "#ffe8e8"}, {"offset": 1, "color": "#ff0000"}]}, "stroke": "#ff0000", "strokeWidth": 1.5},
   "encoding": {"x": {"field": "value", "type": "quantitative", "scale": {"domain": [-19, 35], "nice": false, "zero": false}, "axis": {"orient": "top", "values": [0], "labels": false, "ticks": false, "grid": true, "gridColor": "#000", "gridWidth": 2, "gridDash": [2, 1], "zindex": 1, "domainColor": "#a6a6a6", "domainWidth": 1, "title": "CO₂", "titleFont": "Liberation Serif", "titleFontSize": 20, "titleFontWeight": "normal", "titleColor": "#000", "titlePadding": 6}}}}
 ],
 "resolve": {"axis": {"x": "independent"}}},
{"width": 54, "height": 688, "transform": [{"filter": "datum.ind === 'SO2'"}],
 "encoding": {"y": {"field": "sector", "type": "nominal", "scale": {"domain": ["Agriculture","Mining and Washing of Coal","Ferrous Metal Ores","Non-Ferrous Metal Ores","Foods and Tobacco","Textile","Textile Wearing Products","Timbers and Furniture","Papermaking","Petroleum and Coking","Chemical Industry","Nonmetallic Mineral Products","Smelting and Rolling of Metals","Metal Products","Machinery","Transport Equipment","Electrical Machinery and Equipment","Communication Electronic Equipment","Measuring Instrument and Machinery","Artwork, Other Manufacture","Scrap and Waste","Electric Power and Heat Power","Production and Distribution of Gas","Production and Distribution of Water","Construction","Service"], "paddingInner": 0.15, "paddingOuter": 0.075}, "axis": null},
  "x2": {"datum": 0}},
 "layer": [
  {"transform": [{"filter": "datum.value > 0"}], "mark": {"type": "bar", "fill": {"x1": 0, "y1": 0, "x2": 1, "y2": 0, "gradient": "linear", "stops": [{"offset": 0, "color": "#5482c3"}, {"offset": 1, "color": "#e6edf7"}]}, "stroke": "#6a95cf", "strokeWidth": 1.5},
   "encoding": {"x": {"field": "value", "type": "quantitative", "scale": {"domain": [-51, 3], "nice": false, "zero": false}, "axis": {"orient": "bottom", "values": [-51], "labels": false, "title": null, "grid": false, "domainColor": "#a6a6a6", "domainWidth": 1, "tickColor": "#a6a6a6", "tickSize": 4}}}},
  {"transform": [{"filter": "datum.value < 0"}], "mark": {"type": "bar", "fill": {"x1": 0, "y1": 0, "x2": 1, "y2": 0, "gradient": "linear", "stops": [{"offset": 0, "color": "#ffe8e8"}, {"offset": 1, "color": "#ff0000"}]}, "stroke": "#ff0000", "strokeWidth": 1.5},
   "encoding": {"x": {"field": "value", "type": "quantitative", "scale": {"domain": [-51, 3], "nice": false, "zero": false}, "axis": {"orient": "top", "values": [0], "labels": false, "ticks": false, "grid": true, "gridColor": "#000", "gridWidth": 2, "gridDash": [2, 1], "zindex": 1, "domainColor": "#a6a6a6", "domainWidth": 1, "title": "SO₂", "titleFont": "Liberation Serif", "titleFontSize": 20, "titleFontWeight": "normal", "titleColor": "#000", "titlePadding": 6}}}}
 ],
 "resolve": {"axis": {"x": "independent"}}},
{"width": 54, "height": 688, "transform": [{"filter": "datum.ind === 'Soot'"}],
 "encoding": {"y": {"field": "sector", "type": "nominal", "scale": {"domain": ["Agriculture","Mining and Washing of Coal","Ferrous Metal Ores","Non-Ferrous Metal Ores","Foods and Tobacco","Textile","Textile Wearing Products","Timbers and Furniture","Papermaking","Petroleum and Coking","Chemical Industry","Nonmetallic Mineral Products","Smelting and Rolling of Metals","Metal Products","Machinery","Transport Equipment","Electrical Machinery and Equipment","Communication Electronic Equipment","Measuring Instrument and Machinery","Artwork, Other Manufacture","Scrap and Waste","Electric Power and Heat Power","Production and Distribution of Gas","Production and Distribution of Water","Construction","Service"], "paddingInner": 0.15, "paddingOuter": 0.075}, "axis": null},
  "x2": {"datum": 0}},
 "layer": [
  {"transform": [{"filter": "datum.value > 0"}], "mark": {"type": "bar", "fill": {"x1": 0, "y1": 0, "x2": 1, "y2": 0, "gradient": "linear", "stops": [{"offset": 0, "color": "#5482c3"}, {"offset": 1, "color": "#e6edf7"}]}, "stroke": "#6a95cf", "strokeWidth": 1.5},
   "encoding": {"x": {"field": "value", "type": "quantitative", "scale": {"domain": [-45, 9], "nice": false, "zero": false}, "axis": {"orient": "bottom", "values": [-45], "labels": false, "title": null, "grid": false, "domainColor": "#a6a6a6", "domainWidth": 1, "tickColor": "#a6a6a6", "tickSize": 4}}}},
  {"transform": [{"filter": "datum.value < 0"}], "mark": {"type": "bar", "fill": {"x1": 0, "y1": 0, "x2": 1, "y2": 0, "gradient": "linear", "stops": [{"offset": 0, "color": "#ffe8e8"}, {"offset": 1, "color": "#ff0000"}]}, "stroke": "#ff0000", "strokeWidth": 1.5},
   "encoding": {"x": {"field": "value", "type": "quantitative", "scale": {"domain": [-45, 9], "nice": false, "zero": false}, "axis": {"orient": "top", "values": [0], "labels": false, "ticks": false, "grid": true, "gridColor": "#000", "gridWidth": 2, "gridDash": [2, 1], "zindex": 1, "domainColor": "#a6a6a6", "domainWidth": 1, "title": "Soot", "titleFont": "Liberation Serif", "titleFontSize": 20, "titleFontWeight": "normal", "titleColor": "#000", "titlePadding": 6}}}}
 ],
 "resolve": {"axis": {"x": "independent"}}},
{"width": 53, "height": 688, "transform": [{"filter": "datum.ind === 'WW'"}],
 "encoding": {"y": {"field": "sector", "type": "nominal", "scale": {"domain": ["Agriculture","Mining and Washing of Coal","Ferrous Metal Ores","Non-Ferrous Metal Ores","Foods and Tobacco","Textile","Textile Wearing Products","Timbers and Furniture","Papermaking","Petroleum and Coking","Chemical Industry","Nonmetallic Mineral Products","Smelting and Rolling of Metals","Metal Products","Machinery","Transport Equipment","Electrical Machinery and Equipment","Communication Electronic Equipment","Measuring Instrument and Machinery","Artwork, Other Manufacture","Scrap and Waste","Electric Power and Heat Power","Production and Distribution of Gas","Production and Distribution of Water","Construction","Service"], "paddingInner": 0.15, "paddingOuter": 0.075}, "axis": null},
  "x2": {"datum": 0}},
 "layer": [
  {"transform": [{"filter": "datum.value > 0"}], "mark": {"type": "bar", "fill": {"x1": 0, "y1": 0, "x2": 1, "y2": 0, "gradient": "linear", "stops": [{"offset": 0, "color": "#5482c3"}, {"offset": 1, "color": "#e6edf7"}]}, "stroke": "#6a95cf", "strokeWidth": 1.5},
   "encoding": {"x": {"field": "value", "type": "quantitative", "scale": {"domain": [-50, 3], "nice": false, "zero": false}, "axis": {"orient": "bottom", "values": [-50], "labels": false, "title": null, "grid": false, "domainColor": "#a6a6a6", "domainWidth": 1, "tickColor": "#a6a6a6", "tickSize": 4}}}},
  {"transform": [{"filter": "datum.value < 0"}], "mark": {"type": "bar", "fill": {"x1": 0, "y1": 0, "x2": 1, "y2": 0, "gradient": "linear", "stops": [{"offset": 0, "color": "#ffe8e8"}, {"offset": 1, "color": "#ff0000"}]}, "stroke": "#ff0000", "strokeWidth": 1.5},
   "encoding": {"x": {"field": "value", "type": "quantitative", "scale": {"domain": [-50, 3], "nice": false, "zero": false}, "axis": {"orient": "top", "values": [0], "labels": false, "ticks": false, "grid": true, "gridColor": "#000", "gridWidth": 2, "gridDash": [2, 1], "zindex": 1, "domainColor": "#a6a6a6", "domainWidth": 1, "title": "WW", "titleFont": "Liberation Serif", "titleFontSize": 20, "titleFontWeight": "normal", "titleColor": "#000", "titlePadding": 6}}}}
 ],
 "resolve": {"axis": {"x": "independent"}}},
{"width": 54, "height": 688, "transform": [{"filter": "datum.ind === 'SW'"}],
 "encoding": {"y": {"field": "sector", "type": "nominal", "scale": {"domain": ["Agriculture","Mining and Washing of Coal","Ferrous Metal Ores","Non-Ferrous Metal Ores","Foods and Tobacco","Textile","Textile Wearing Products","Timbers and Furniture","Papermaking","Petroleum and Coking","Chemical Industry","Nonmetallic Mineral Products","Smelting and Rolling of Metals","Metal Products","Machinery","Transport Equipment","Electrical Machinery and Equipment","Communication Electronic Equipment","Measuring Instrument and Machinery","Artwork, Other Manufacture","Scrap and Waste","Electric Power and Heat Power","Production and Distribution of Gas","Production and Distribution of Water","Construction","Service"], "paddingInner": 0.15, "paddingOuter": 0.075}, "axis": null},
  "x2": {"datum": 0}},
 "layer": [
  {"transform": [{"filter": "datum.value > 0"}], "mark": {"type": "bar", "fill": {"x1": 0, "y1": 0, "x2": 1, "y2": 0, "gradient": "linear", "stops": [{"offset": 0, "color": "#5482c3"}, {"offset": 1, "color": "#e6edf7"}]}, "stroke": "#6a95cf", "strokeWidth": 1.5},
   "encoding": {"x": {"field": "value", "type": "quantitative", "scale": {"domain": [-48, 6], "nice": false, "zero": false}, "axis": {"orient": "bottom", "values": [-48], "labels": false, "title": null, "grid": false, "domainColor": "#a6a6a6", "domainWidth": 1, "tickColor": "#a6a6a6", "tickSize": 4}}}},
  {"transform": [{"filter": "datum.value < 0"}], "mark": {"type": "bar", "fill": {"x1": 0, "y1": 0, "x2": 1, "y2": 0, "gradient": "linear", "stops": [{"offset": 0, "color": "#ffe8e8"}, {"offset": 1, "color": "#ff0000"}]}, "stroke": "#ff0000", "strokeWidth": 1.5},
   "encoding": {"x": {"field": "value", "type": "quantitative", "scale": {"domain": [-48, 6], "nice": false, "zero": false}, "axis": {"orient": "top", "values": [0], "labels": false, "ticks": false, "grid": true, "gridColor": "#000", "gridWidth": 2, "gridDash": [2, 1], "zindex": 1, "domainColor": "#a6a6a6", "domainWidth": 1, "title": "SW", "titleFont": "Liberation Serif", "titleFontSize": 20, "titleFontWeight": "normal", "titleColor": "#000", "titlePadding": 6}}}}
 ],
 "resolve": {"axis": {"x": "independent"}}},
{"width": 54, "height": 688, "transform": [{"filter": "datum.ind === 'COD'"}],
 "encoding": {"y": {"field": "sector", "type": "nominal", "scale": {"domain": ["Agriculture","Mining and Washing of Coal","Ferrous Metal Ores","Non-Ferrous Metal Ores","Foods and Tobacco","Textile","Textile Wearing Products","Timbers and Furniture","Papermaking","Petroleum and Coking","Chemical Industry","Nonmetallic Mineral Products","Smelting and Rolling of Metals","Metal Products","Machinery","Transport Equipment","Electrical Machinery and Equipment","Communication Electronic Equipment","Measuring Instrument and Machinery","Artwork, Other Manufacture","Scrap and Waste","Electric Power and Heat Power","Production and Distribution of Gas","Production and Distribution of Water","Construction","Service"], "paddingInner": 0.15, "paddingOuter": 0.075}, "axis": null},
  "x2": {"datum": 0}},
 "layer": [
  {"transform": [{"filter": "datum.value > 0"}], "mark": {"type": "bar", "fill": {"x1": 0, "y1": 0, "x2": 1, "y2": 0, "gradient": "linear", "stops": [{"offset": 0, "color": "#5482c3"}, {"offset": 1, "color": "#e6edf7"}]}, "stroke": "#6a95cf", "strokeWidth": 1.5},
   "encoding": {"x": {"field": "value", "type": "quantitative", "scale": {"domain": [-52, 2], "nice": false, "zero": false}, "axis": {"orient": "bottom", "values": [-52], "labels": false, "title": null, "grid": false, "domainColor": "#a6a6a6", "domainWidth": 1, "tickColor": "#a6a6a6", "tickSize": 4}}}},
  {"transform": [{"filter": "datum.value < 0"}], "mark": {"type": "bar", "fill": {"x1": 0, "y1": 0, "x2": 1, "y2": 0, "gradient": "linear", "stops": [{"offset": 0, "color": "#ffe8e8"}, {"offset": 1, "color": "#ff0000"}]}, "stroke": "#ff0000", "strokeWidth": 1.5},
   "encoding": {"x": {"field": "value", "type": "quantitative", "scale": {"domain": [-52, 2], "nice": false, "zero": false}, "axis": {"orient": "top", "values": [0], "labels": false, "ticks": false, "grid": false, "domainColor": "#a6a6a6", "domainWidth": 1, "title": "COD", "titleFont": "Liberation Serif", "titleFontSize": 20, "titleFontWeight": "normal", "titleColor": "#000", "titlePadding": 6}}}}
 ],
 "resolve": {"axis": {"x": "independent"}}},
{"width": 53, "height": 688, "transform": [{"filter": "datum.ind === 'AN'"}],
 "encoding": {"y": {"field": "sector", "type": "nominal", "scale": {"domain": ["Agriculture","Mining and Washing of Coal","Ferrous Metal Ores","Non-Ferrous Metal Ores","Foods and Tobacco","Textile","Textile Wearing Products","Timbers and Furniture","Papermaking","Petroleum and Coking","Chemical Industry","Nonmetallic Mineral Products","Smelting and Rolling of Metals","Metal Products","Machinery","Transport Equipment","Electrical Machinery and Equipment","Communication Electronic Equipment","Measuring Instrument and Machinery","Artwork, Other Manufacture","Scrap and Waste","Electric Power and Heat Power","Production and Distribution of Gas","Production and Distribution of Water","Construction","Service"], "paddingInner": 0.15, "paddingOuter": 0.075}, "axis": null},
  "x2": {"datum": 0}},
 "layer": [
  {"transform": [{"filter": "datum.value > 0"}], "mark": {"type": "bar", "fill": {"x1": 0, "y1": 0, "x2": 1, "y2": 0, "gradient": "linear", "stops": [{"offset": 0, "color": "#5482c3"}, {"offset": 1, "color": "#e6edf7"}]}, "stroke": "#6a95cf", "strokeWidth": 1.5},
   "encoding": {"x": {"field": "value", "type": "quantitative", "scale": {"domain": [-43, 10], "nice": false, "zero": false}, "axis": {"orient": "bottom", "values": [-43], "labels": false, "title": null, "grid": false, "domainColor": "#a6a6a6", "domainWidth": 1, "tickColor": "#a6a6a6", "tickSize": 4}}}},
  {"transform": [{"filter": "datum.value < 0"}], "mark": {"type": "bar", "fill": {"x1": 0, "y1": 0, "x2": 1, "y2": 0, "gradient": "linear", "stops": [{"offset": 0, "color": "#ffe8e8"}, {"offset": 1, "color": "#ff0000"}]}, "stroke": "#ff0000", "strokeWidth": 1.5},
   "encoding": {"x": {"field": "value", "type": "quantitative", "scale": {"domain": [-43, 10], "nice": false, "zero": false}, "axis": {"orient": "top", "values": [0], "labels": false, "ticks": false, "grid": true, "gridColor": "#000", "gridWidth": 2, "gridDash": [2, 1], "zindex": 1, "domainColor": "#a6a6a6", "domainWidth": 1, "title": "AN", "titleFont": "Liberation Serif", "titleFontSize": 20, "titleFontWeight": "normal", "titleColor": "#000", "titlePadding": 6}}}}
 ],
 "resolve": {"axis": {"x": "independent"}}}
]
}
]
}
